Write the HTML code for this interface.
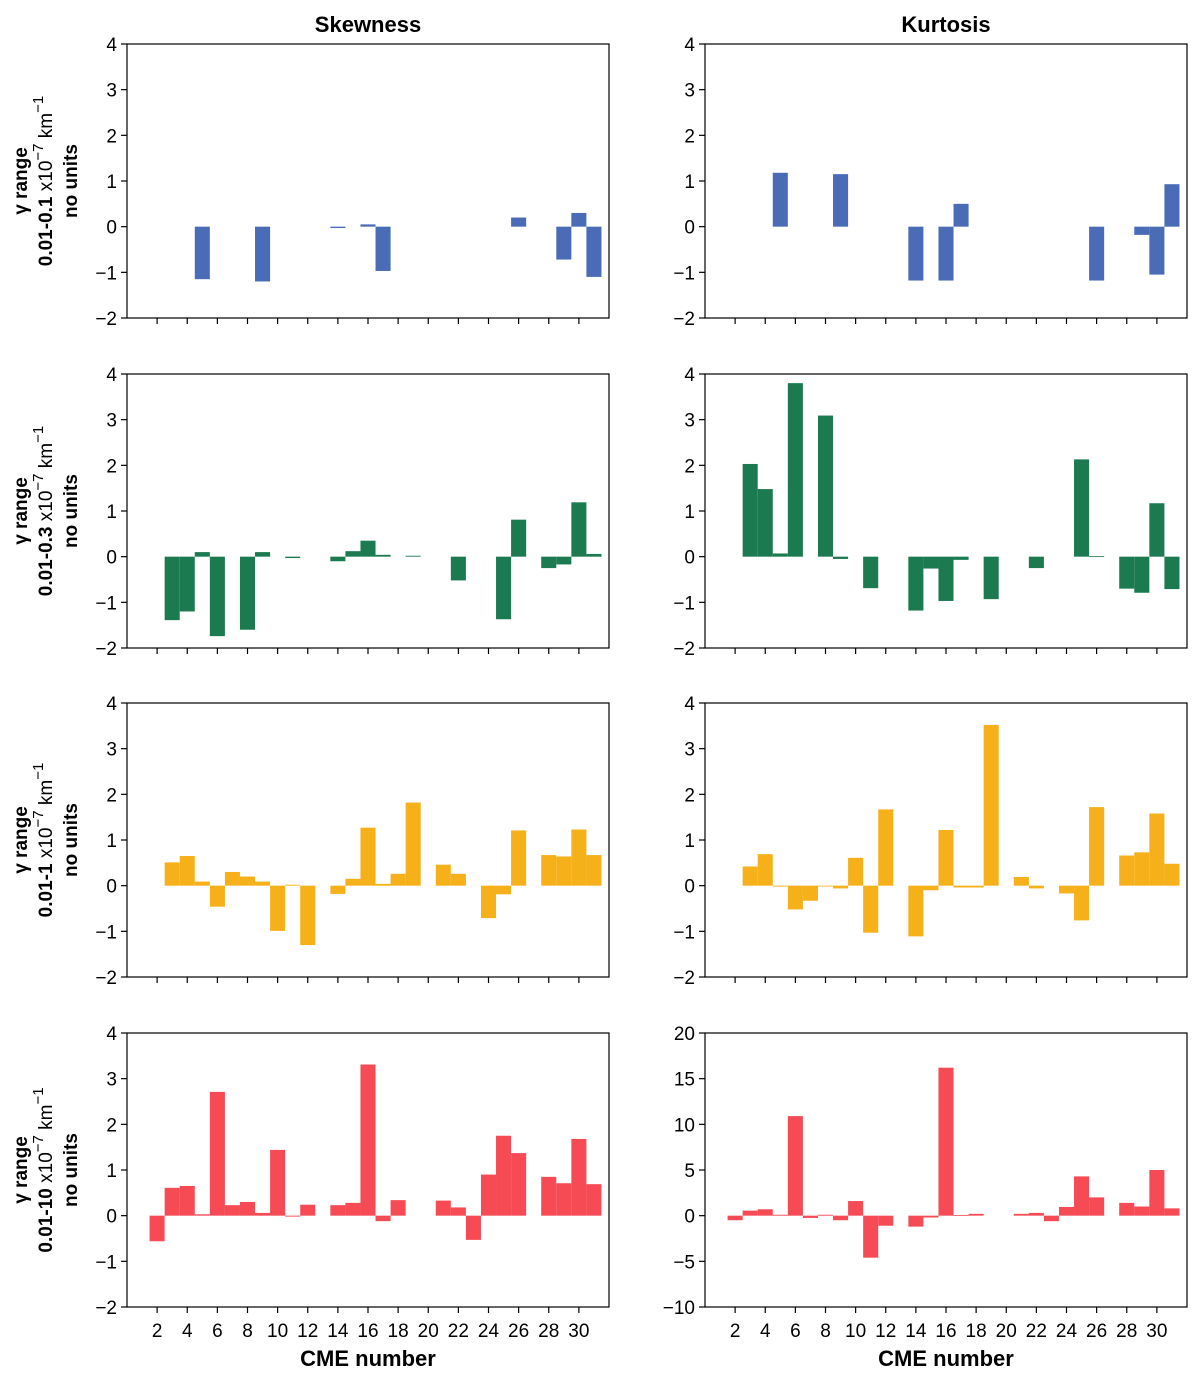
<!DOCTYPE html>
<html><head><meta charset="utf-8"><style>
html,body{margin:0;padding:0;background:#fff;}
svg text{font-family:"Liberation Sans",sans-serif;fill:#000;}
</style></head><body>
<svg id="fig" width="1200" height="1386" viewBox="0 0 1200 1386" xmlns="http://www.w3.org/2000/svg"></svg>
<script>
const cmeNumbers = [2,3,4,5,6,7,8,9,10,11,12,13,14,15,16,17,18,19,20,21,22,23,24,25,26,27,28,29,30,31];
const skew1 = {5:-1.15,9:-1.2,14:-0.03,16:0.05,17:-0.97,26:0.2,29:-0.72,30:0.3,31:-1.1};
const kurt1 = {5:1.18,9:1.15,14:-1.18,16:-1.18,17:0.5,26:-1.18,29:-0.18,30:-1.05,31:0.93};
const skew2 = {3:-1.39,4:-1.2,5:0.1,6:-1.74,8:-1.6,9:0.1,11:-0.03,14:-0.1,15:0.12,16:0.35,17:0.04,19:0.02,22:-0.52,25:-1.37,26:0.81,28:-0.25,29:-0.17,30:1.19,31:0.06};
const kurt2 = {3:2.03,4:1.48,5:0.07,6:3.8,8:3.09,9:-0.05,11:-0.69,14:-1.18,15:-0.26,16:-0.97,17:-0.07,19:-0.93,22:-0.25,25:2.13,26:0.01,28:-0.7,29:-0.79,30:1.17,31:-0.71};
const skew3 = {3:0.51,4:0.65,5:0.09,6:-0.46,7:0.3,8:0.2,9:0.09,10:-0.99,11:0.02,12:-1.3,14:-0.18,15:0.15,16:1.27,17:0.04,18:0.26,19:1.82,21:0.46,22:0.26,24:-0.71,25:-0.19,26:1.21,28:0.67,29:0.64,30:1.23,31:0.67};
const kurt3 = {3:0.42,4:0.69,5:-0.02,6:-0.52,7:-0.33,8:-0.01,9:-0.06,10:0.61,11:-1.03,12:1.67,14:-1.11,15:-0.1,16:1.22,17:-0.04,18:-0.04,19:3.52,21:0.19,22:-0.06,24:-0.17,25:-0.76,26:1.72,28:0.66,29:0.73,30:1.58,31:0.48};
const skew4 = {2:-0.56,3:0.61,4:0.65,5:0.03,6:2.71,7:0.23,8:0.3,9:0.06,10:1.44,11:-0.02,12:0.24,14:0.23,15:0.28,16:3.31,17:-0.12,18:0.34,21:0.33,22:0.18,23:-0.53,24:0.9,25:1.75,26:1.37,28:0.85,29:0.71,30:1.68,31:0.69};
const kurt4 = {2:-0.5,3:0.55,4:0.7,5:0.1,6:10.9,7:-0.25,8:0.1,9:-0.5,10:1.6,11:-4.6,12:-1.1,14:-1.2,15:-0.2,16:16.2,17:0.05,18:0.2,21:0.2,22:0.3,23:-0.6,24:0.95,25:4.3,26:2.0,28:1.4,29:1.0,30:5.0,31:0.8};
const yTicksSmall = [-2,-1,0,1,2,3,4];
const yTicksBig = [-10,-5,0,5,10,15,20];
const xTickLabels = [2,4,6,8,10,12,14,16,18,20,22,24,26,28,30];
const rowRanges = ["0.01-0.1","0.01-0.3","0.01-1","0.01-10"];
const colors = ["#4a6cb6","#1b7a4f","#f6b01a","#f64a55"];

const NS="http://www.w3.org/2000/svg";
const svg=document.getElementById('fig');
function mk(tag,attrs,parent){const e=document.createElementNS(NS,tag);for(const k in attrs)e.setAttribute(k,attrs[k]);(parent||svg).appendChild(e);return e;}

const colX=[127,705], W=482, H=274, rowY=[44,374,703,1033];
const panels=[[skew1,kurt1],[skew2,kurt2],[skew3,kurt3],[skew4,kurt4]];

["Skewness","Kurtosis"].forEach((t,c)=>{
  const e=mk('text',{x:colX[c]+W/2,y:32,'text-anchor':'middle','font-size':22,'font-weight':'bold'});
  
  
  e.textContent=t;
});

panels.forEach((pair,r)=>{
  const cy=rowY[r]+H/2;
  const lab=mk('text',{transform:`translate(0,${cy}) rotate(-90)`,'text-anchor':'middle','font-size':19});
  
  
  const t1=mk('tspan',{x:0,y:27,'font-weight':'bold'},lab); t1.textContent="γ range";
  const t2=mk('tspan',{x:0,y:52},lab);
  const b=mk('tspan',{'font-weight':'bold'},t2); b.textContent=rowRanges[r]+" ";
  const n1=mk('tspan',{},t2); n1.textContent="x10";
  const s1=mk('tspan',{dy:-9,'font-size':15},t2); s1.textContent="−7";
  const n2=mk('tspan',{dy:9},t2); n2.textContent=" km";
  const s2=mk('tspan',{dy:-9,'font-size':15},t2); s2.textContent="−1";
  const t3=mk('tspan',{x:0,y:77,'font-weight':'bold'},lab); t3.textContent="no units";

  pair.forEach((data,c)=>{
    const x0=colX[c], y0=rowY[r];
    const big=(r===3&&c===1);
    const ticks=big?yTicksBig:yTicksSmall;
    const ymin=ticks[0], ymax=ticks[ticks.length-1];
    const sx=v=>x0+v*W/32;
    const sy=v=>y0+(ymax-v)*H/(ymax-ymin);
    const g=mk('g',{});
    
    
    cmeNumbers.forEach(n=>{
      const v=data[n];
      if(v===undefined||v===null) return;
      const ya=sy(Math.max(v,0)), yb=sy(Math.min(v,0));
      const rect=mk('rect',{x:sx(n-0.5),y:ya,width:W/32,height:Math.max(yb-ya,0.8),fill:colors[r]},g);
      
      
    });
    mk('rect',{x:x0,y:y0,width:W,height:H,fill:'none',stroke:'#000','stroke-width':1.2},g);
    ticks.forEach(t=>{
      const y=sy(t);
      mk('line',{x1:x0-6,x2:x0,y1:y,y2:y,stroke:'#000','stroke-width':1.2},g);
      const tl=mk('text',{x:x0-10,y:y+7,'text-anchor':'end','font-size':19},g);
      
      
      tl.textContent=t<0?'−'+(-t):String(t);
    });
    xTickLabels.forEach(t=>{
      const x=sx(t);
      mk('line',{x1:x,x2:x,y1:y0+H,y2:y0+H+6,stroke:'#000','stroke-width':1.2},g);
      if(r===3){
        const tl=mk('text',{x:x,y:y0+H+30,'text-anchor':'middle','font-size':19},g);
        
        
        tl.textContent=t;
      }
    });
    if(r===3){
      const xl=mk('text',{x:x0+W/2,y:1366,'text-anchor':'middle','font-size':22,'font-weight':'bold'},g);
      
      
      xl.textContent="CME number";
    }
  });
});
</script>
</body></html>
